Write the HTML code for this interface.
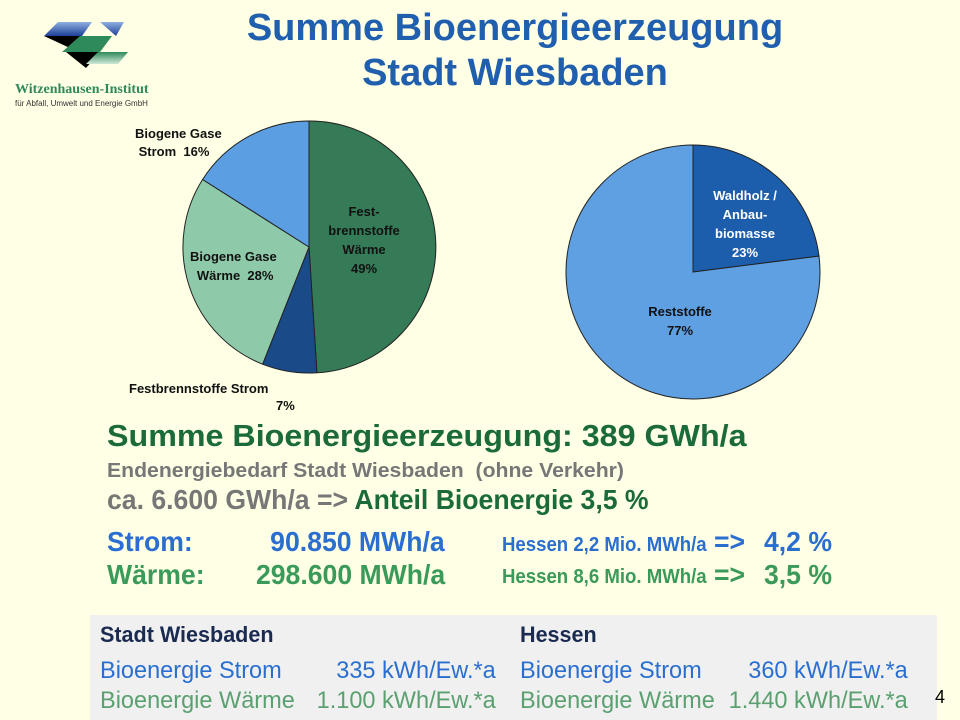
<!DOCTYPE html>
<html><head><meta charset="utf-8"><style>
body{margin:0;width:960px;height:720px;background:#ffffe5;position:relative;overflow:hidden;font-family:"Liberation Sans",sans-serif}
.t{position:absolute;white-space:nowrap;transform-origin:0 0;font-weight:bold}
.r{position:absolute;white-space:nowrap;transform-origin:100% 0;text-align:right}
</style></head><body>
<svg width="960" height="720" style="position:absolute;left:0;top:0">
 <defs>
  <linearGradient id="bl" x1="0" y1="0" x2="0" y2="1"><stop offset="0" stop-color="#8fb0e0"/><stop offset="1" stop-color="#1d3f9a"/></linearGradient>
  <linearGradient id="gr" x1="0" y1="0" x2="0" y2="1"><stop offset="0" stop-color="#2f8a5a"/><stop offset="1" stop-color="#cfe8d8"/></linearGradient>
 </defs>
 <polygon points="58,22 92,22 82,36 44,36" fill="url(#bl)"/>
 <polygon points="100,22 124,22 116,36" fill="url(#bl)"/>
 <polygon points="44,36 82,36 70,48" fill="#000"/>
 <polygon points="80,36 112,36 100,52 62,52" fill="#2e8a5a"/>
 <polygon points="66,52 100,52 86,68" fill="#000"/>
 <polygon points="98,52 128,52 118,64 86,64" fill="url(#gr)"/>
 <g stroke="#222" stroke-width="1">
  <path d="M309,247 L309,121 A126,126 0 0 1 316.9,372.8 Z" fill="#357b58"/>
  <path d="M309,247 L316.9,372.8 A126,126 0 0 1 262.6,364.2 Z" fill="#1a4a88"/>
  <path d="M309,247 L262.6,364.2 A126,126 0 0 1 202.6,179.5 Z" fill="#8ecaaa"/>
  <path d="M309,247 L202.6,179.5 A126,126 0 0 1 309,121 Z" fill="#5b9fe2"/>
  <path d="M693,272 L693,145 A127,127 0 0 1 819,256.1 Z" fill="#1c5eac"/>
  <path d="M693,272 L819,256.1 A127,127 0 1 1 693,145 Z" fill="#5fa0e3"/>
 </g>
 <rect x="90" y="615" width="847" height="105" fill="#f0f0f0"/>
</svg>
<div class="t" style="left:15px;top:82px;font-family:'Liberation Serif',serif;font-size:14px;color:#2e8a5a">Witzenhausen-Institut</div>
<div class="t" style="left:15px;top:99px;font-size:8px;font-weight:normal;color:#333">für Abfall, Umwelt und Energie GmbH</div>
<div class="t" style="left:0;width:1030px;text-align:center;top:7px;font-size:38px;color:#1f5fae">Summe Bioenergieerzeugung</div>
<div class="t" style="left:0;width:1030px;text-align:center;top:52px;font-size:38px;color:#1f5fae">Stadt Wiesbaden</div>
<div class="t" style="left:135px;top:125px;font-size:13px;line-height:18px;color:#111">Biogene Gase<br>&nbsp;Strom&nbsp; 16%</div>
<div class="t" style="left:316px;top:202px;width:96px;text-align:center;font-size:13px;line-height:19px;color:#111">Fest-<br>brennstoffe<br>Wärme<br>49%</div>
<div class="t" style="left:190px;top:247px;font-size:13px;line-height:19px;color:#111;text-align:center">Biogene Gase<br>&nbsp;Wärme&nbsp; 28%</div>
<div class="t" style="left:129px;top:379px;font-size:13px;line-height:19px;color:#111">Festbrennstoffe Strom</div>
<div class="t" style="left:276px;top:398px;font-size:13px;color:#111">7%</div>
<div class="t" style="left:700px;top:186px;width:90px;text-align:center;font-size:13px;line-height:19px;color:#fff">Waldholz /<br>Anbau-<br>biomasse<br>23%</div>
<div class="t" style="left:630px;top:302px;width:100px;text-align:center;font-size:13px;line-height:19px;color:#111">Reststoffe<br>77%</div>
<div class="t" style="left:107px;top:418px;font-size:31px;color:#1b6b3a;transform:scaleX(1.04)">Summe Bioenergieerzeugung: 389 GWh/a</div>
<div class="t" style="left:107px;top:460px;font-size:20px;color:#777;transform:scaleX(1.06)">Endenergiebedarf Stadt Wiesbaden&nbsp; (ohne Verkehr)</div>
<div class="t" style="left:107px;top:484px;font-size:28px;color:#777;transform:scaleX(0.95)">ca. 6.600 GWh/a =&gt; <span style="color:#1b6b3a">Anteil Bioenergie 3,5 %</span></div>
<div class="t" style="left:107px;top:526px;font-size:28px;color:#2a6fd0;transform:scaleX(0.95)">Strom:</div>
<div class="r" style="right:515px;top:526px;font-size:28px;font-weight:bold;color:#2a6fd0;transform:scaleX(0.95)">90.850 MWh/a</div>
<div class="t" style="left:502px;top:534px;font-size:20px;color:#2a6fd0;transform:scaleX(0.93)">Hessen 2,2 Mio. MWh/a</div>
<div class="t" style="left:714px;top:526px;font-size:28px;color:#2a6fd0;transform:scaleX(0.95)">=&gt;</div>
<div class="t" style="left:764px;top:526px;font-size:28px;color:#2a6fd0;transform:scaleX(0.95)">4,2 %</div>
<div class="t" style="left:107px;top:559px;font-size:28px;color:#3a9a5a;transform:scaleX(0.95)">Wärme:</div>
<div class="r" style="right:515px;top:559px;font-size:28px;font-weight:bold;color:#3a9a5a;transform:scaleX(0.95)">298.600 MWh/a</div>
<div class="t" style="left:502px;top:566px;font-size:20px;color:#3a9a5a;transform:scaleX(0.93)">Hessen 8,6 Mio. MWh/a</div>
<div class="t" style="left:714px;top:559px;font-size:28px;color:#3a9a5a;transform:scaleX(0.95)">=&gt;</div>
<div class="t" style="left:764px;top:559px;font-size:28px;color:#3a9a5a;transform:scaleX(0.95)">3,5 %</div>
<div class="t" style="left:100px;top:622px;font-size:22px;color:#1a2a50;transform:scaleX(0.98)">Stadt Wiesbaden</div>
<div class="t" style="left:520px;top:622px;font-size:22px;color:#1a2a50;transform:scaleX(0.98)">Hessen</div>
<div class="t" style="left:100px;top:657px;font-size:24px;font-weight:normal;color:#2a6fd0;transform:scaleX(0.98)">Bioenergie Strom</div>
<div class="r" style="right:464px;top:657px;font-size:24px;color:#2a6fd0;transform:scaleX(0.98)">335 kWh/Ew.*a</div>
<div class="t" style="left:100px;top:687px;font-size:24px;font-weight:normal;color:#5aa070;transform:scaleX(0.98)">Bioenergie Wärme</div>
<div class="r" style="right:464px;top:687px;font-size:24px;color:#5aa070;transform:scaleX(0.98)">1.100 kWh/Ew.*a</div>
<div class="t" style="left:520px;top:657px;font-size:24px;font-weight:normal;color:#2a6fd0;transform:scaleX(0.98)">Bioenergie Strom</div>
<div class="r" style="right:52px;top:657px;font-size:24px;color:#2a6fd0;transform:scaleX(0.98)">360 kWh/Ew.*a</div>
<div class="t" style="left:520px;top:687px;font-size:24px;font-weight:normal;color:#5aa070;transform:scaleX(0.98)">Bioenergie Wärme</div>
<div class="r" style="right:52px;top:687px;font-size:24px;color:#5aa070;transform:scaleX(0.98)">1.440 kWh/Ew.*a</div>
<div class="t" style="left:935px;top:687px;font-size:18px;font-weight:normal;color:#000">4</div>
</body></html>
